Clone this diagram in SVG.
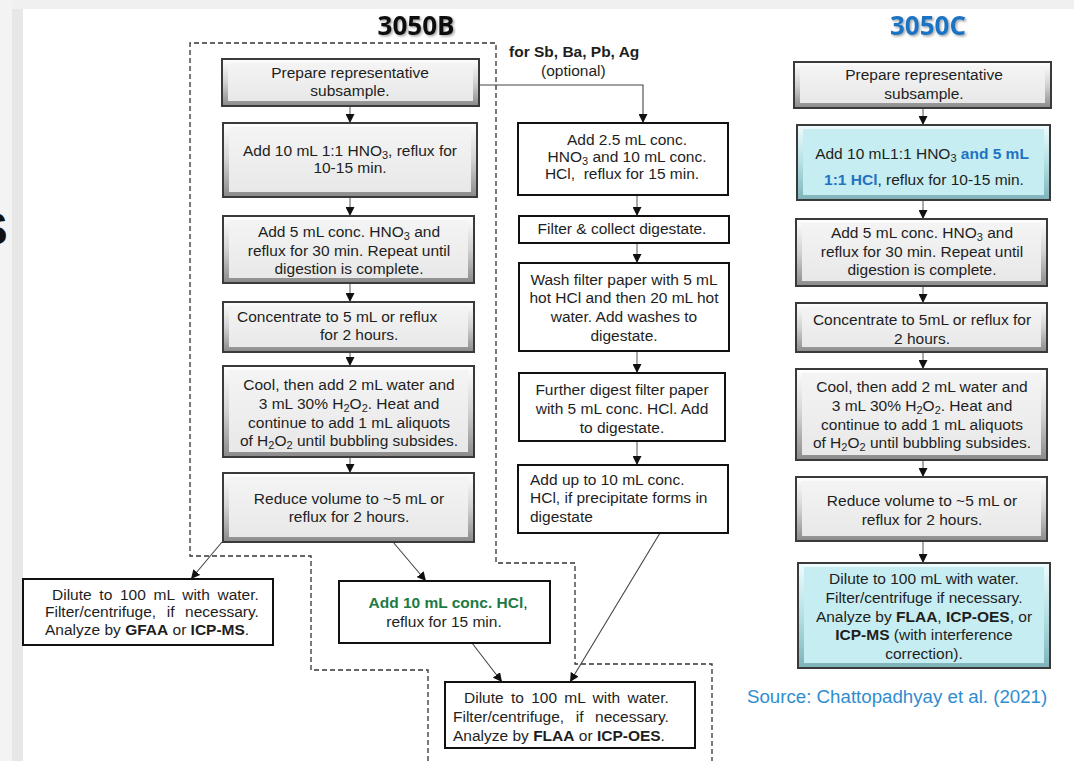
<svg xmlns="http://www.w3.org/2000/svg" width="1074" height="761" viewBox="0 0 1074 761">
<defs>
<linearGradient id="bvG" x1="0" y1="0" x2="0" y2="1"><stop offset="0" stop-color="#ffffff"/><stop offset="0.5" stop-color="#d2d2d2"/><stop offset="1" stop-color="#8a8a8a"/></linearGradient>
<linearGradient id="inG" x1="0" y1="0" x2="0" y2="1"><stop offset="0" stop-color="#f4f4f4"/><stop offset="1" stop-color="#e8e8e8"/></linearGradient>
<linearGradient id="bvC" x1="0" y1="0" x2="0" y2="1"><stop offset="0" stop-color="#effcfd"/><stop offset="0.5" stop-color="#b4e0e5"/><stop offset="1" stop-color="#7fb3b9"/></linearGradient>
<marker id="ah" viewBox="0 0 10 10" refX="10" refY="5" markerWidth="9" markerHeight="9" markerUnits="userSpaceOnUse" orient="auto"><path d="M0,0 L10,5 L0,10 z" fill="#111"/></marker>
<filter id="sh" x="-10%" y="-10%" width="130%" height="140%"><feDropShadow dx="1.5" dy="1.5" stdDeviation="1" flood-color="#000" flood-opacity="0.35"/></filter>
</defs>
<style>
text{font-family:'Liberation Sans',Arial,sans-serif;font-size:15.5px;fill:#1e1e1e}
.c{text-anchor:middle}
.b{font-weight:bold}
.sub{font-size:11px}
.bv{fill:url(#bvG);stroke:#3a3a3a;stroke-width:2}
.in{fill:url(#inG)}
.bvc{fill:url(#bvC);stroke:#3a3a3a;stroke-width:2}
.inc{fill:#c6edf1}
.pl{fill:#fff;stroke:#111;stroke-width:2}
.ttl{font-family:'Open Sans',sans-serif;font-weight:700;font-size:26px;text-anchor:middle}
.dash{fill:none;stroke:#333;stroke-width:1.3;stroke-dasharray:5 3}
.av{stroke:#8c8c8c;stroke-width:1.5;fill:none;marker-end:url(#ah)}
.ad{stroke:#444;stroke-width:1.1;fill:none;marker-end:url(#ah)}
.blue{fill:#1f73c2}
.green{fill:#1d7a45}
</style>
<rect x="0" y="0" width="1074" height="761" fill="#ffffff"/>
<rect x="0" y="0" width="1074" height="9" fill="#f0f0f0"/>
<rect x="0" y="0" width="12" height="761" fill="#f3f3f3"/>
<rect x="12" y="9" width="11" height="752" fill="#e7e7e7"/>
<text x="-23" y="245" style="font-size:46px;font-weight:bold;fill:#111">S</text>

<text class="ttl" x="416" y="35" filter="url(#sh)" style="fill:#111">3050B</text>
<text class="ttl" x="928" y="35" filter="url(#sh)" style="fill:#1f73c2">3050C</text>

<path class="dash" d="M428,761 V670 H311 V556 H190 V43 H496 V563 H575 V664 H712 V761"/>

<g id="connectors">
<path class="av" d="M350,106 V123"/>
<path class="av" d="M350,197 V216"/>
<path class="av" d="M350,283 V302"/>
<path class="av" d="M350,352 V366"/>
<path class="av" d="M350,457 V473"/>
<path class="av" d="M923,108 V125"/>
<path class="av" d="M923,200 V219"/>
<path class="av" d="M923,286 V303"/>
<path class="av" d="M923,352 V369"/>
<path class="av" d="M923,460 V477"/>
<path class="av" d="M923,541 V563"/>
<path class="ad" d="M479,85 H643 V123"/>
<path class="av" d="M637,195 V216"/>
<path class="av" d="M637,243 V263"/>
<path class="av" d="M637,351 V373"/>
<path class="av" d="M637,441 V465"/>
<path class="ad" d="M222,542 L191,579"/>
<path class="ad" d="M393,542 L426,581"/>
<path class="ad" d="M472,643 L502,682"/>
<path class="ad" d="M660,533 L570,682"/>
</g>

<text class="b" x="509" y="57">for Sb, Ba, Pb, Ag</text>
<text x="541" y="76">(optional)</text>

<g id="b1">
<rect class="bv" x="222" y="59" width="257" height="47"/><rect class="in" x="228" y="63" width="245" height="38"/>
<text class="c" x="350" y="78">Prepare representative</text><text class="c" x="350" y="96">subsample.</text>
</g>
<g id="b2">
<rect class="bv" x="223" y="123" width="254" height="74"/><rect class="in" x="229" y="127" width="242" height="65"/>
<text class="c" x="350" y="156">Add 10 mL 1:1 HNO<tspan class="sub" dy="3">3</tspan><tspan dy="-3">, reflux for</tspan></text><text class="c" x="350" y="173">10-15 min.</text>
</g>
<g id="b3">
<rect class="bv" x="223" y="216" width="251" height="67"/><rect class="in" x="229" y="220" width="239" height="58"/>
<text class="c" x="349" y="237">Add 5 mL conc. HNO<tspan class="sub" dy="3">3</tspan><tspan dy="-3"> and</tspan></text><text class="c" x="349" y="256">reflux for 30 min. Repeat until</text><text class="c" x="349" y="274">digestion is complete.</text>
</g>
<g id="b4">
<rect class="bv" x="223" y="302" width="251" height="50"/><rect class="in" x="229" y="306" width="239" height="41"/>
<text x="237" y="322">Concentrate to 5 mL or reflux</text><text x="320" y="340">for 2 hours.</text>
</g>
<g id="b5">
<rect class="bv" x="223" y="366" width="251" height="91"/><rect class="in" x="229" y="370" width="239" height="82"/>
<text class="c" x="349" y="390">Cool, then add 2 mL water and</text>
<text class="c" x="349" y="409">3 mL 30% H<tspan class="sub" dy="3">2</tspan><tspan dy="-3">O</tspan><tspan class="sub" dy="3">2</tspan><tspan dy="-3">. Heat and</tspan></text>
<text class="c" x="349" y="428">continue to add 1 mL aliquots</text>
<text class="c" x="349" y="446">of H<tspan class="sub" dy="3">2</tspan><tspan dy="-3">O</tspan><tspan class="sub" dy="3">2</tspan><tspan dy="-3"> until bubbling subsides.</tspan></text>
</g>
<g id="b6">
<rect class="bv" x="223" y="473" width="251" height="69"/><rect class="in" x="229" y="477" width="239" height="60"/>
<text class="c" x="349" y="504">Reduce volume to ~5 mL or</text><text class="c" x="349" y="522">reflux for 2 hours.</text>
</g>

<g id="m1">
<rect class="pl" x="518" y="123" width="210" height="72"/>
<text class="c" x="627" y="145">Add 2.5 mL conc.</text>
<text class="c" x="627" y="162">HNO<tspan class="sub" dy="3">3</tspan><tspan dy="-3"> and 10 mL conc.</tspan></text>
<text class="c" x="622" y="179">HCl,&#160; reflux for 15 min.</text>
</g>
<g id="m2">
<rect class="pl" x="519" y="216" width="210" height="27"/>
<text class="c" x="622" y="234">Filter &amp; collect digestate.</text>
</g>
<g id="m3">
<rect class="pl" x="519" y="263" width="210" height="88"/>
<text class="c" x="624" y="285">Wash filter paper with 5 mL</text>
<text class="c" x="624" y="303">hot HCl and then 20 mL hot</text>
<text class="c" x="624" y="322">water. Add washes to</text>
<text class="c" x="624" y="341">digestate.</text>
</g>
<g id="m4">
<rect class="pl" x="519" y="373" width="206" height="68"/>
<text class="c" x="622" y="395">Further digest filter paper</text>
<text class="c" x="622" y="414">with 5 mL conc. HCl. Add</text>
<text class="c" x="622" y="433">to digestate.</text>
</g>
<g id="m5">
<rect class="pl" x="518" y="465" width="210" height="68"/>
<text x="530" y="485">Add up to 10 mL conc.</text>
<text x="530" y="503">HCl, if precipitate forms in</text>
<text x="530" y="522">digestate</text>
</g>

<g id="o1">
<rect class="pl" x="23" y="579" width="250" height="66"/>
<text x="52" y="600" word-spacing="3.4">Dilute to 100 mL with water.</text>
<text x="45" y="617" word-spacing="6.3">Filter/centrifuge, if necessary.</text>
<text x="45" y="635">Analyze by <tspan class="b">GFAA</tspan> or <tspan class="b">ICP-MS</tspan>.</text>
</g>
<g id="o2">
<rect class="pl" x="339" y="581" width="211" height="62"/>
<text class="c" x="448" y="608"><tspan class="b green">Add 10 mL conc. HCl</tspan>,</text>
<text class="c" x="444" y="627">reflux for 15 min.</text>
</g>
<g id="o3">
<rect class="pl" x="445" y="682" width="250" height="66"/>
<text x="464" y="703" word-spacing="3">Dilute to 100 mL with water.</text>
<text x="453" y="722" word-spacing="7.3">Filter/centrifuge, if necessary.</text>
<text x="453" y="741">Analyze by <tspan class="b">FLAA</tspan> or <tspan class="b">ICP-OES</tspan>.</text>
</g>

<g id="c1">
<rect class="bv" x="794" y="62" width="257" height="46"/><rect class="in" x="800" y="66" width="245" height="37"/>
<text class="c" x="924" y="80">Prepare representative</text><text class="c" x="924" y="99">subsample.</text>
</g>
<g id="c2">
<rect class="bvc" x="797" y="125" width="253" height="75"/><rect class="inc" x="803" y="129" width="241" height="66"/>
<text class="c" x="922" y="159">Add 10 mL1:1 HNO<tspan class="sub" dy="3">3</tspan><tspan dy="-3"> </tspan><tspan class="b blue">and 5 mL</tspan></text>
<text class="c" x="924" y="185"><tspan class="b blue">1:1 HCl</tspan>, reflux for 10-15 min.</text>
</g>
<g id="c3">
<rect class="bv" x="796" y="219" width="251" height="67"/><rect class="in" x="802" y="223" width="239" height="58"/>
<text class="c" x="922" y="238">Add 5 mL conc. HNO<tspan class="sub" dy="3">3</tspan><tspan dy="-3"> and</tspan></text><text class="c" x="922" y="257">reflux for 30 min. Repeat until</text><text class="c" x="922" y="275">digestion is complete.</text>
</g>
<g id="c4">
<rect class="bv" x="796" y="303" width="251" height="49"/><rect class="in" x="802" y="307" width="239" height="40"/>
<text class="c" x="922" y="325">Concentrate to 5mL or reflux for</text><text class="c" x="922" y="344">2 hours.</text>
</g>
<g id="c5">
<rect class="bv" x="796" y="369" width="251" height="91"/><rect class="in" x="802" y="373" width="239" height="82"/>
<text class="c" x="922" y="392">Cool, then add 2 mL water and</text>
<text class="c" x="922" y="411">3 mL 30% H<tspan class="sub" dy="3">2</tspan><tspan dy="-3">O</tspan><tspan class="sub" dy="3">2</tspan><tspan dy="-3">. Heat and</tspan></text>
<text class="c" x="922" y="430">continue to add 1 mL aliquots</text>
<text class="c" x="922" y="448">of H<tspan class="sub" dy="3">2</tspan><tspan dy="-3">O</tspan><tspan class="sub" dy="3">2</tspan><tspan dy="-3"> until bubbling subsides.</tspan></text>
</g>
<g id="c6">
<rect class="bv" x="796" y="477" width="251" height="64"/><rect class="in" x="802" y="481" width="239" height="55"/>
<text class="c" x="922" y="506">Reduce volume to ~5 mL or</text><text class="c" x="922" y="525">reflux for 2 hours.</text>
</g>
<g id="c7">
<rect class="bvc" x="798" y="563" width="252" height="105"/><rect class="inc" x="804" y="567" width="240" height="96"/>
<text class="c" x="924" y="584">Dilute to 100 mL with water.</text>
<text class="c" x="924" y="603">Filter/centrifuge if necessary.</text>
<text class="c" x="924" y="622">Analyze by <tspan class="b">FLAA</tspan>, <tspan class="b">ICP-OES</tspan>, or</text>
<text class="c" x="924" y="640"><tspan class="b">ICP-MS</tspan> (with interference</text>
<text class="c" x="924" y="659">correction).</text>
</g>

<text x="747" y="703" style="font-size:18.7px;fill:#2f8dd0">Source: Chattopadhyay et al. (2021)</text>
</svg>
